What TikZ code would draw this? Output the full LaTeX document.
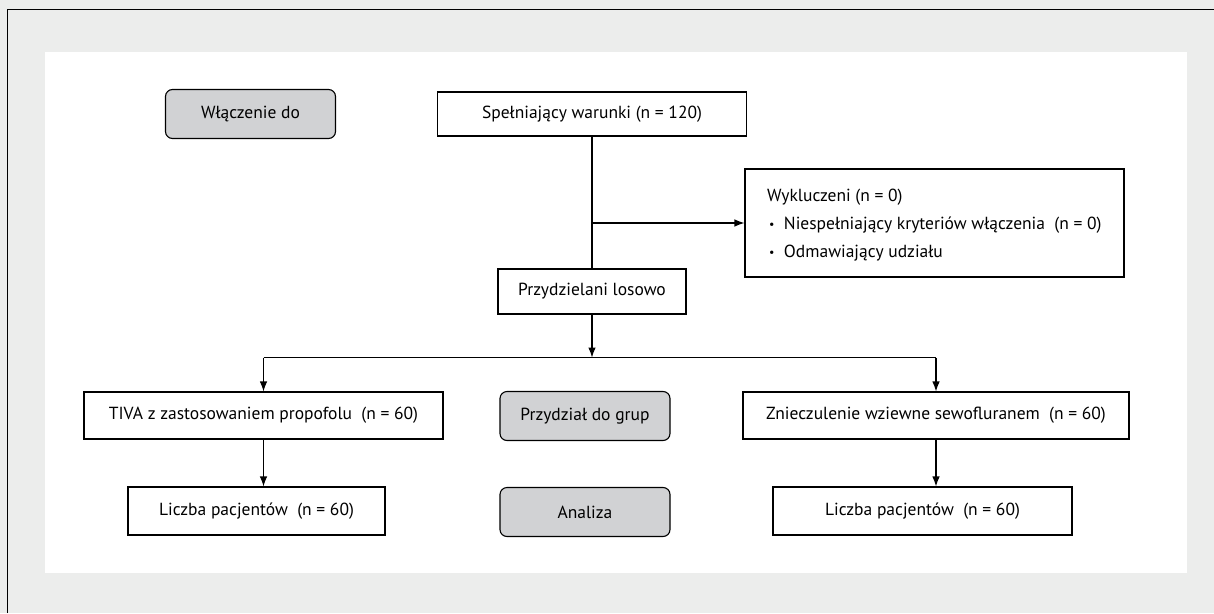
\documentclass[tikz,border=0pt]{standalone}
\usepackage{fontspec}
\setmainfont{PT Sans}
\usetikzlibrary{arrows.meta}
\definecolor{framegray}{HTML}{ECEDEC}
\definecolor{stagegray}{HTML}{D1D2D4}
\newcommand{\smallbullet}{\raisebox{1pt}{\fontsize{12}{12}\selectfont •}}
\begin{document}
\begin{tikzpicture}[x=1pt,y=-1pt]
    \tikzset{>={Latex[length=10pt,width=7.5pt]}}
    \tikzset{flowbox/.style={draw=black, line width=1.1pt, fill=white, inner sep=0pt, minimum height=45pt, font=\fontsize{17.5}{20}\selectfont}}
    \tikzset{stagebox/.style={flowbox, fill=stagegray, rounded corners=7pt, minimum width=170pt, minimum height=49pt}}
    \tikzset{boxtext/.style={anchor=base west, inner sep=0pt, font=\fontsize{17.5}{20}\selectfont}}
    \useasboundingbox (0,0) rectangle (1214,613);
    \fill[framegray] (0,0) rectangle (1214,613);
    \draw[line width=1.5pt] (7.5,613) -- (7.5,9.5) -- (1214,9.5);
    \fill[white] (45,52) rectangle (1187,573);
    % stage labels
    \node[stagebox] (incl) at (250.5,114) {Włączenie do};
    \node[stagebox] (alloc) at (585,416) {Przydział do grup};
    \node[stagebox] (anal) at (585,512) {Analiza};
    % flow boxes
    \node[flowbox, minimum width=309pt, minimum height=44pt] (elig) at (592,114) {Spełniający warunki (n = 120)};
    \node[flowbox, minimum width=379pt, minimum height=108pt] (excl) at (934.5,223) {};
    \node[boxtext] (exhead) at (767,201) {Wykluczeni (n = 0)};
    \node[boxtext] (exone) at (769,229) {\smallbullet\ \ Niespełniający kryteriów włączenia\ \ (n = 0)};
    \node[boxtext] (extwo) at (769,257) {\smallbullet\ \ Odmawiający udziału};
    \node[flowbox, minimum width=188pt] (rand) at (592,291.5) {Przydzielani losowo};
    \node[flowbox, minimum width=359pt, minimum height=47pt] (tiva) at (263.5,415.5) {TIVA z zastosowaniem propofolu\ \ (n = 60)};
    \node[flowbox, minimum width=386pt, minimum height=47pt] (sevo) at (936,415.5) {Znieczulenie wziewne sewofluranem\ \ (n = 60)};
    \node[flowbox, minimum width=257pt, minimum height=48pt] (tivan) at (256.5,511) {Liczba pacjentów\ \ (n = 60)};
    \node[flowbox, minimum width=299pt, minimum height=48pt] (sevon) at (922.5,511) {Liczba pacjentów\ \ (n = 60)};
    % connectors
    \draw[line width=1.1pt] (elig.south) -- (rand.north);
    \draw[->, line width=1.1pt] (elig.south |- excl.west) -- (excl.west);
    \draw[->, line width=1.1pt] (rand.south) -- ++(0,43) coordinate (fork);
    \draw[line width=1.1pt] (tiva.north |- fork) -- (sevo.north |- fork);
    \draw[->, line width=1.1pt] (tiva.north |- fork) -- (tiva.north);
    \draw[->, line width=1.1pt] (sevo.north |- fork) -- (sevo.north);
    \draw[->, line width=1.1pt] (tiva.south) -- (tiva.south |- tivan.north);
    \draw[->, line width=1.1pt] (sevo.south) -- (sevo.south |- sevon.north);
\end{tikzpicture}
\end{document}
